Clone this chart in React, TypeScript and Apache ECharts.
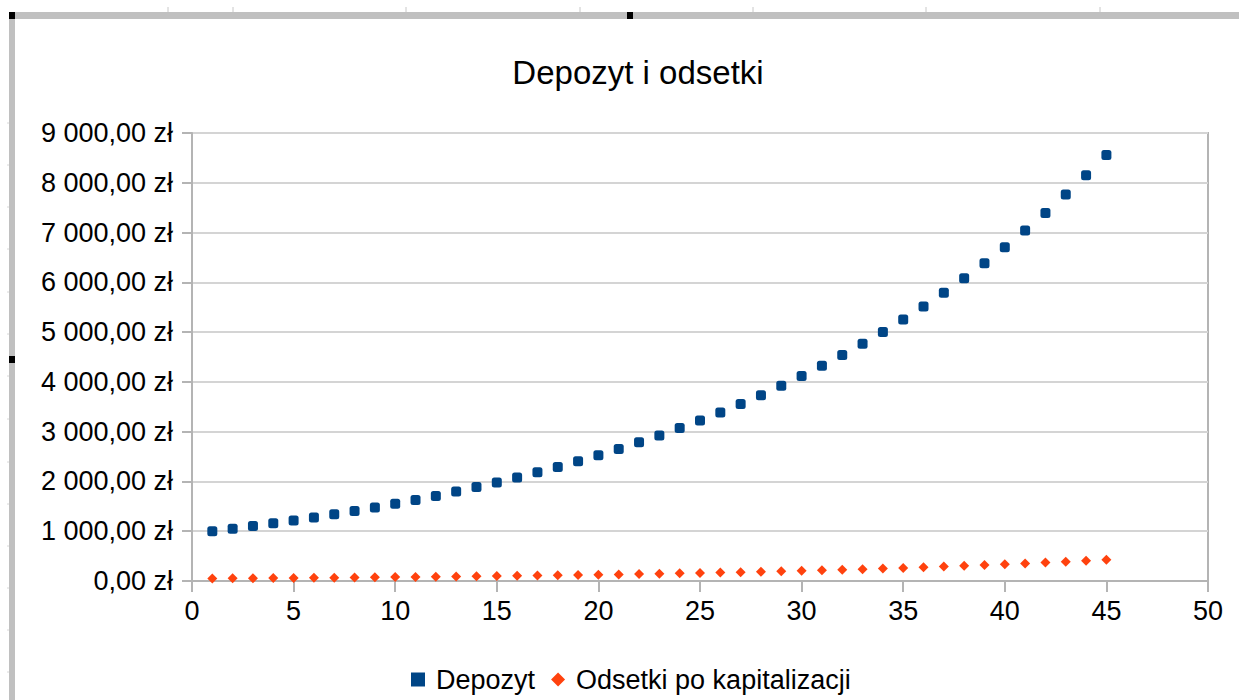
import React, { useEffect, useRef } from "react";
import * as echarts from "echarts";

const years: number[] = [
  1, 2, 3, 4, 5, 6, 7, 8, 9, 10, 11, 12, 13, 14, 15, 16, 17, 18, 19, 20, 21, 22, 23,
  24, 25, 26, 27, 28, 29, 30, 31, 32, 33, 34, 35, 36, 37, 38, 39, 40, 41, 42, 43, 44, 45,
];

const depozyt: number[] = [
  1000, 1050, 1103, 1158, 1216, 1276, 1340, 1407, 1477, 1551, 1629, 1710, 1796, 1886,
  1980, 2079, 2183, 2292, 2407, 2527, 2653, 2786, 2925, 3072, 3225, 3386, 3556, 3733,
  3920, 4116, 4322, 4538, 4765, 5003, 5253, 5516, 5792, 6081, 6385, 6705, 7040, 7392,
  7762, 8150, 8557,
];

const odsetki: number[] = [
  50, 53, 55, 58, 61, 64, 67, 70, 74, 78, 81, 86, 90, 94, 99, 104, 109, 115, 120, 126,
  133, 139, 146, 154, 161, 169, 178, 187, 196, 206, 216, 226, 238, 250, 262, 275, 289,
  304, 319, 335, 352, 370, 388, 407, 428,
];

const titleText = "Depozyt i odsetki";
const seriesNames = ["Depozyt", "Odsetki po kapitalizacji"];

const FONT = "'Liberation Sans', Arial, sans-serif";

function formatZl(v: number): string {
  const s = Math.round(v).toString().replace(/\B(?=(\d{3})+(?!\d))/g, " ");
  return s + ",00 zł";
}

const topRulerTicks = [168, 233, 406, 580, 753, 926, 1100];
const leftRulerTicks = [123, 165, 207, 249, 292, 334, 376, 419, 462, 504, 546, 588, 630, 672];

export default function App() {
  const ref = useRef<HTMLDivElement>(null);
  useEffect(() => {
    if (!ref.current) return;
    const chart = echarts.init(ref.current, undefined, { renderer: "svg" });
    const grey = "#c0c0c0";
    const graphics: any[] = [
      { type: "rect", shape: { x: 9, y: 12, width: 1240, height: 7 }, style: { fill: grey }, silent: true },
      { type: "rect", shape: { x: 9, y: 12, width: 6, height: 700 }, style: { fill: grey }, silent: true },
      { type: "rect", shape: { x: 9, y: 12, width: 6, height: 7 }, style: { fill: "#000" }, silent: true },
      { type: "rect", shape: { x: 627, y: 12, width: 6, height: 7 }, style: { fill: "#000" }, silent: true },
      { type: "rect", shape: { x: 9, y: 356, width: 6, height: 7 }, style: { fill: "#000" }, silent: true },
    ];
    topRulerTicks.forEach((x) =>
      graphics.push({
        type: "line",
        shape: { x1: x, y1: 7, x2: x, y2: 12 },
        style: { stroke: "#c8c8c8", lineWidth: 1 },
        silent: true,
      })
    );
    leftRulerTicks.forEach((y) =>
      graphics.push({
        type: "line",
        shape: { x1: 7, y1: y, x2: 9, y2: y },
        style: { stroke: "#d8d8d8", lineWidth: 1 },
        silent: true,
      })
    );

    chart.setOption({
      animation: false,
      backgroundColor: "#ffffff",
      textStyle: { fontFamily: FONT },
      title: {
        text: titleText,
        left: 633,
        top: 51,
        textAlign: "center",
        textStyle: { fontFamily: FONT, fontSize: 33, fontWeight: "normal", color: "#000" },
      },
      grid: {
        left: 192,
        right: 31,
        top: 133,
        bottom: 119,
        show: true,
        borderColor: "#b4b4b4",
        borderWidth: 2,
        backgroundColor: "transparent",
      },
      legend: {
        left: 406,
        top: 661,
        itemWidth: 14,
        itemHeight: 14,
        itemGap: 16,
        textStyle: { fontFamily: FONT, fontSize: 27, color: "#000", padding: [0, 0, 0, 6] },
        data: [
          { name: seriesNames[0], icon: "rect" },
          { name: seriesNames[1], icon: "diamond" },
        ],
      },
      xAxis: {
        type: "value",
        min: 0,
        max: 50,
        interval: 5,
        axisLine: { show: true, lineStyle: { color: "#b4b4b4", width: 2 } },
        axisTick: { show: true, length: 11, lineStyle: { color: "#b4b4b4", width: 2 } },
        splitLine: { show: false },
        axisLabel: { margin: 16, fontSize: 27, color: "#000", fontFamily: FONT },
      },
      yAxis: {
        type: "value",
        min: 0,
        max: 9000,
        interval: 1000,
        axisLine: { show: true, lineStyle: { color: "#b4b4b4", width: 2 } },
        axisTick: { show: true, length: 10, lineStyle: { color: "#b4b4b4", width: 2 } },
        splitLine: { show: true, lineStyle: { color: "#d4d4d4", width: 2 } },
        axisLabel: {
          margin: 19,
          fontSize: 27,
          color: "#000",
          fontFamily: FONT,
          formatter: (v: number) => formatZl(v),
        },
      },
      series: [
        {
          name: seriesNames[0],
          type: "scatter",
          symbol: "roundRect",
          symbolSize: 10,
          itemStyle: { color: "#004586", opacity: 1 },
          data: years.map((x, i) => [x, depozyt[i]]),
        },
        {
          name: seriesNames[1],
          type: "scatter",
          symbol: "diamond",
          symbolSize: 10,
          itemStyle: { color: "#ff420e", opacity: 1 },
          data: years.map((x, i) => [x, odsetki[i]]),
        },
      ],
      graphic: graphics,
    });
    return () => chart.dispose();
  }, []);
  return (
    <div
      ref={ref}
      style={{ position: "fixed", left: 0, top: 0, width: 1239, height: 700, background: "#fff" }}
    />
  );
}
